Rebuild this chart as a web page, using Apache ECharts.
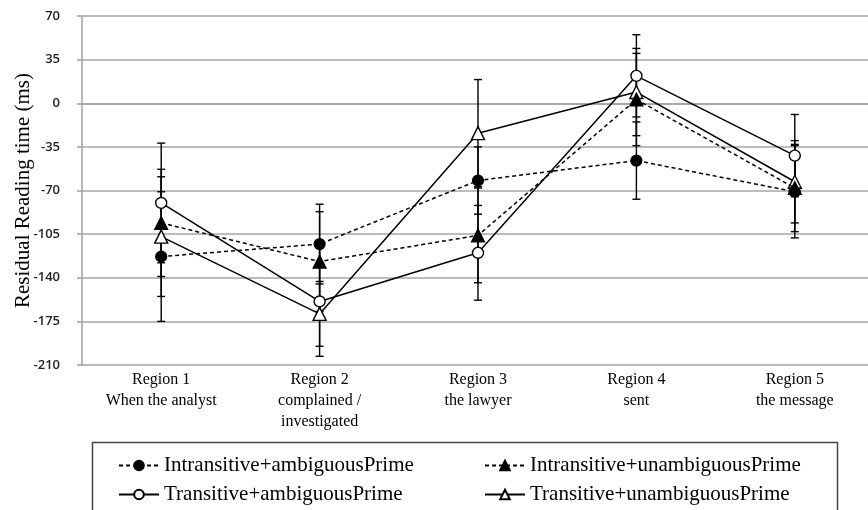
<!DOCTYPE html>
<html><head><meta charset="utf-8">
<script src="https://cdn.jsdelivr.net/npm/echarts@6/dist/echarts.min.js"></script>
<style>html,body{margin:0;padding:0;background:#fff}#c{width:868px;height:510px}</style>
</head><body><div id="c"></div>
<script>
// ---- data ----
const categories = ['Region 1\nWhen the analyst', 'Region 2\ncomplained /\ninvestigated', 'Region 3\nthe lawyer', 'Region 4\nsent', 'Region 5\nthe message'];
const seriesNames = ['Intransitive+ambiguousPrime', 'Intransitive+unambiguousPrime', 'Transitive+ambiguousPrime', 'Transitive+unambiguousPrime'];
const intransAmb = [-123, -113, -62, -46, -71];
const intransAmbErr = [52, 32, 27, 31, 37];
const intransUnamb = [-96, -127, -106, 3, -68];
const intransUnambErr = [43, 40, 38, 37, 35];
const transAmb = [-80, -159, -120, 22, -42];
const transAmbErr = [48, 44, 38, 33, 33];
const transUnamb = [-107, -169, -24, 9, -63];
const transUnambErr = [48, 26, 43, 35, 33];
const yMin = -210, yMax = 70, yInterval = 35;
const yTitle = 'Residual Reading time (ms)';

const SERIF = '"Liberation Serif", "Times New Roman", serif';

function errSeries(vals, errs, name) {
  return {
    type: 'custom', name: name + ' err', silent: true, z: 1,
    data: vals.map((v, i) => [i, v - errs[i], v + errs[i]]),
    encode: { x: 0, y: [1, 2] },
    renderItem: function (params, api) {
      const x = api.value(0);
      const lo = api.coord([x, api.value(1)]);
      const hi = api.coord([x, api.value(2)]);
      const hw = 4;
      const st = { stroke: '#000', lineWidth: 1.4 };
      return { type: 'group', children: [
        { type: 'line', shape: { x1: lo[0], y1: lo[1], x2: hi[0], y2: hi[1] }, style: st },
        { type: 'line', shape: { x1: lo[0] - hw, y1: lo[1], x2: lo[0] + hw, y2: lo[1] }, style: st },
        { type: 'line', shape: { x1: hi[0] - hw, y1: hi[1], x2: hi[0] + hw, y2: hi[1] }, style: st }
      ]};
    }
  };
}

function lineSeries(name, vals, symbol, filled, dashed, z) {
  return {
    type: 'line', name: name, data: vals, z: z,
    symbol: symbol, symbolSize: symbol === 'circle' ? 11 : 13, showSymbol: true,
    itemStyle: filled ? { color: '#000', borderColor: '#000', borderWidth: 1.2 } : { color: '#fff', borderColor: '#000', borderWidth: 1.4 },
    lineStyle: { color: '#000', width: 1.5, type: dashed ? [4, 3] : 'solid' },
    emphasis: { disabled: true }
  };
}

const legendCommon = {
  orient: 'vertical', top: 455, height: 80, padding: 0, itemWidth: 40, itemHeight: 12, itemGap: 8,
  textStyle: { fontFamily: SERIF, fontSize: 21, color: '#000' }
};

const chart = echarts.init(document.getElementById('c'), null, { renderer: 'canvas' });
chart.setOption({
  animation: false,
  backgroundColor: '#fff',
  grid: { left: 82, top: 16, width: 792, bottom: 145, containLabel: false, outerBoundsMode: 'none' },
  xAxis: {
    type: 'category', data: categories, boundaryGap: true,
    axisLine: { show: true, lineStyle: { color: '#a0a0a0', width: 1.5 } },
    axisTick: { show: false },
    axisLabel: { fontFamily: SERIF, fontSize: 16, lineHeight: 21, color: '#000', margin: 4, interval: 0 }
  },
  yAxis: {
    type: 'value', min: yMin, max: yMax, interval: yInterval,
    name: yTitle, nameLocation: 'middle', nameGap: 48, nameMoveOverlap: false,
    nameTextStyle: { fontFamily: SERIF, fontSize: 21, color: '#000' },
    axisLine: { show: true, lineStyle: { color: '#a0a0a0', width: 1.5 } },
    axisTick: { show: true, length: 5, lineStyle: { color: '#a0a0a0', width: 1.5 } },
    splitLine: { show: true, lineStyle: { color: '#a6a6a6', width: 1.5 } },
    axisLabel: { fontFamily: '"Open Sans", sans-serif', fontSize: 13, fontWeight: 600, color: '#222', margin: 22 }
  },
  legend: [
    Object.assign({ left: 118, data: [seriesNames[0], seriesNames[2]] }, legendCommon),
    Object.assign({ left: 484, data: [seriesNames[1], seriesNames[3]] }, legendCommon)
  ],
  graphic: [
    { type: 'rect', shape: { x: 92.5, y: 442.5, width: 745, height: 100 },
      style: { fill: 'none', stroke: '#444', lineWidth: 1.5 }, z: 0 }
  ],
  series: [
    errSeries(intransAmb, intransAmbErr, seriesNames[0]),
    errSeries(intransUnamb, intransUnambErr, seriesNames[1]),
    errSeries(transAmb, transAmbErr, seriesNames[2]),
    errSeries(transUnamb, transUnambErr, seriesNames[3]),
    lineSeries(seriesNames[2], transAmb, 'circle', false, false, 3),
    lineSeries(seriesNames[3], transUnamb, 'triangle', false, false, 3),
    lineSeries(seriesNames[0], intransAmb, 'circle', true, true, 4),
    lineSeries(seriesNames[1], intransUnamb, 'triangle', true, true, 4)
  ]
});
</script></body></html>
